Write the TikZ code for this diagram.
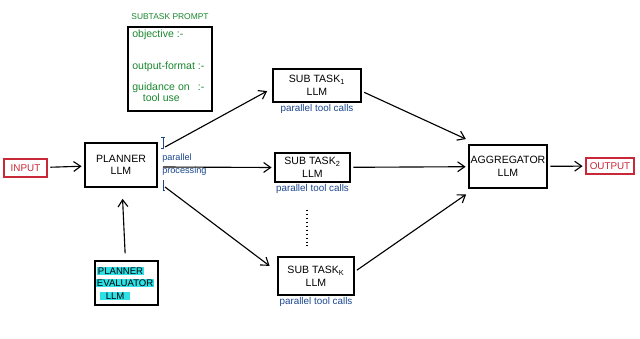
\documentclass[tikz,border=0pt]{standalone}
\usepackage{fontspec}
\setmainfont{Liberation Sans}
\usetikzlibrary{arrows.meta}
\definecolor{boxred}{RGB}{200,40,55}
\definecolor{notegreen}{RGB}{25,135,45}
\definecolor{noteblue}{RGB}{25,70,140}
\definecolor{hilite}{RGB}{45,225,230}

\begin{document}
\begin{tikzpicture}[x=0.025cm,y=-0.025cm,>={Straight Barb[length=5pt,width=7pt]},
  llm/.style={draw,line width=0.8pt,align=center,inner sep=1pt,font=\fontsize{7.5}{9}\selectfont},
  io/.style={draw=boxred,line width=0.8pt,text=boxred,inner sep=1pt,font=\fontsize{7}{8}\selectfont},
  flow/.style={->,line width=0.8pt,shorten >=2pt,shorten <=2pt},
  calls/.style={text=noteblue,font=\fontsize{7}{8}\selectfont,inner sep=1pt},
  note/.style={text=notegreen,font=\fontsize{7.5}{7.5}\selectfont,anchor=west,align=left,inner sep=0pt},
  hilitetext/.style={fill=hilite,inner sep=0.5pt,font=\fontsize{6.8}{8}\selectfont}]
  \useasboundingbox (0,0) rectangle (640,338);

  % subtask prompt
  \node[note,anchor=center,font=\fontsize{6}{7}\selectfont] (prompttitle) at (170,17) {SUBTASK PROMPT};
  \draw[line width=0.8pt] (128,27) rectangle (212,111);
  \node[note] (objective) at (132,35) {objective :-};
  \node[note] (format) at (132,67) {output-format :-};
  \node[note] (guidance) at (132,92) {guidance on \enspace:-\\ \quad tool use};

  % main flow
  \node[io,minimum width=1.075cm,minimum height=0.45cm] (input) at (25.5,168) {INPUT};
  \node[llm,minimum width=1.8cm,minimum height=1.1cm] (planner) at (121,165) {PLANNER\\LLM};
  \node[llm,minimum width=2.2cm,minimum height=0.825cm] (sub1) at (317,85.5) {SUB TASK\textsubscript{1}\\LLM};
  \node[llm,minimum width=1.875cm,minimum height=0.725cm] (sub2) at (312.5,167.5) {SUB TASK\textsubscript{2}\\LLM};
  \node[llm,minimum width=1.9cm,minimum height=0.95cm] (subk) at (316,276) {SUB TASK\textsubscript{K}\\LLM};
  \node[llm,minimum width=1.95cm,minimum height=1.075cm] (agg) at (508,166.5) {AGGREGATOR\\LLM};
  \node[io,minimum width=1.2cm,minimum height=0.4cm] (output) at (610,166) {OUTPUT};

  \node[calls,below] (calls1) at (sub1.south) {parallel tool calls};
  \node[calls,below] (calls2) at (sub2.south) {parallel tool calls};
  \node[calls,below] (callsk) at (subk.south) {parallel tool calls};

  % planner evaluator
  \node[llm,minimum width=1.575cm,minimum height=1.1cm] (evaluator) at (126.5,283) {};
  \node[hilitetext,anchor=west] (eval1) at (97,271) {PLANNER};
  \node[hilitetext,anchor=west] (eval2) at (96,283) {EVALUATOR};
  \node[hilitetext,anchor=west] (eval3) at (100,296) {\enspace LLM\enspace};

  % parallel processing marks
  \draw[noteblue,line width=0.6pt] (161,137) -- (165,137) (163,137) -- (163,148) -- (161,148);
  \draw[noteblue,line width=0.6pt] (163,180) -- (163,190) -- (165,190);
  \node[calls,anchor=west,inner sep=0pt,font=\fontsize{6.5}{7}\selectfont] (parallel) at (162,158) {parallel};
  \node[calls,anchor=west,inner sep=0pt,font=\fontsize{6.5}{7}\selectfont] (processing) at (162,171) {processing};

  \coordinate (forktop) at (165,147);
  \coordinate (forkmid) at (163,167);
  \coordinate (forkbot) at (165,187);
  \coordinate (dottop) at (307,210);
  \coordinate (dotbot) at (307,246);

  \draw[flow] (input) -- (planner);
  \draw[flow,shorten <=0pt] (forktop) -- ([xshift=-2pt,yshift=-3pt]sub1.west);
  \draw[flow,shorten <=0pt] (forkmid) -- (sub2.west);
  \draw[flow,shorten <=0pt] (forkbot) -- ([xshift=-4pt,yshift=6pt]subk.west);
  \draw[flow] ([yshift=-4pt]sub1.east) -- ([yshift=3pt]agg.north west);
  \draw[flow] (sub2) -- (agg);
  \draw[flow] ([yshift=3pt]subk.east) -- ([yshift=-3pt]agg.south west);
  \draw[flow] (agg) -- (output);
  \draw[flow,shorten <=5pt,shorten >=8pt] (evaluator) -- (planner);
  \draw[line width=0.8pt,dotted] (dottop) -- (dotbot);
\end{tikzpicture}
\end{document}
